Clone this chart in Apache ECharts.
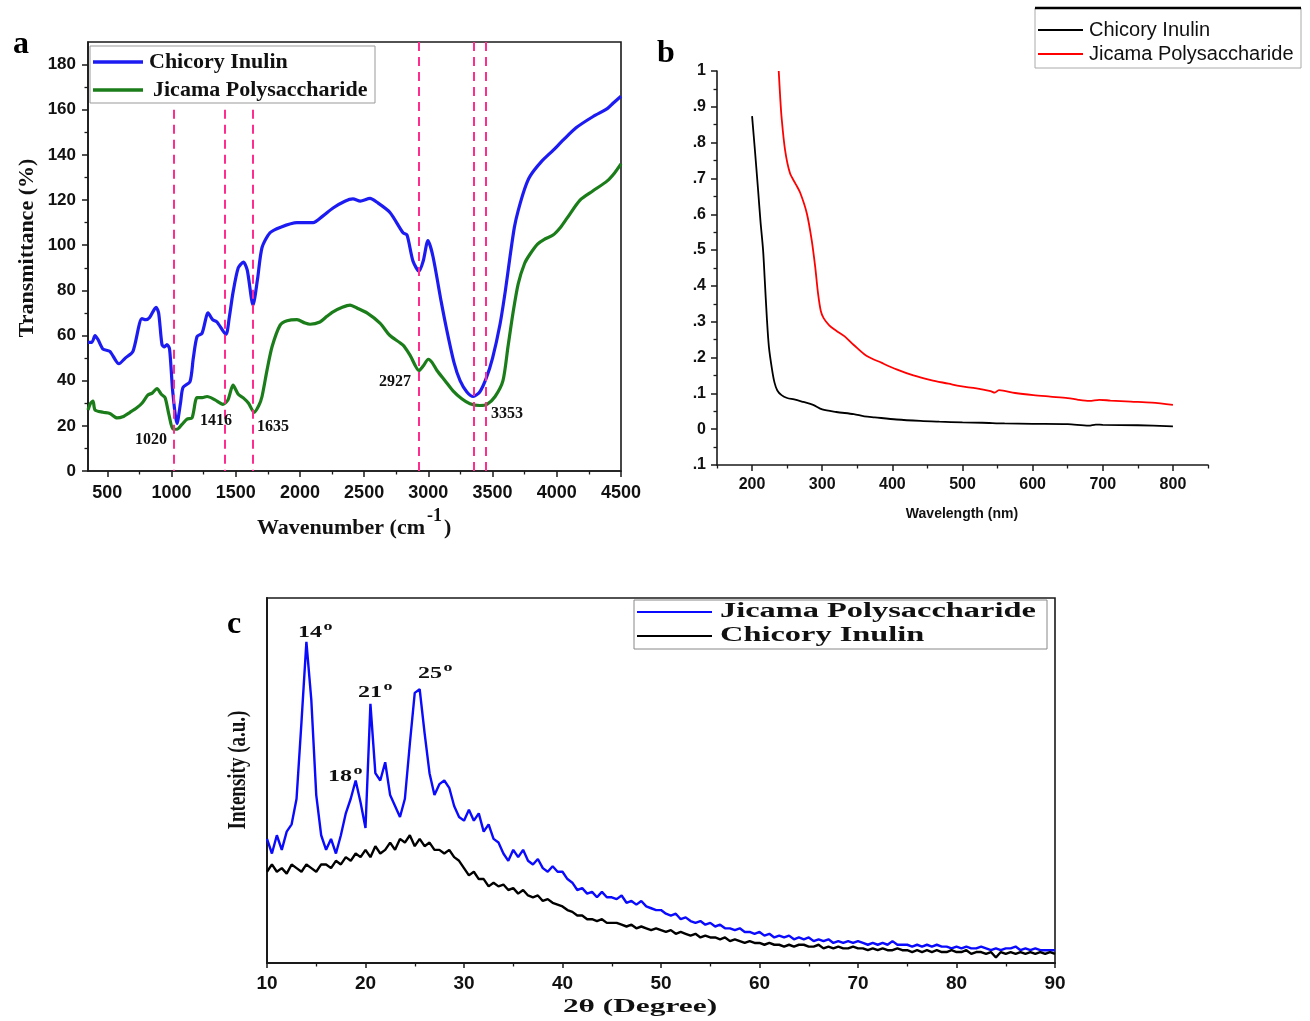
<!DOCTYPE html>
<html><head><meta charset="utf-8">
<script src="https://cdn.jsdelivr.net/npm/echarts@6/dist/echarts.min.js"></script>
<style>html,body{margin:0;padding:0;background:#fff}#c{width:1310px;height:1021px}</style>
</head><body><div id="c"></div>
<script>
// ---------- Panel a : FTIR ----------
const ftirXTicks = [500,1000,1500,2000,2500,3000,3500,4000,4500];
const ftirXMinor = [750,1250,1750,2250,2750,3250,3750,4250];
const ftirYTicks = [0,20,40,60,80,100,120,140,160,180];
const ftirYMinor = [10,30,50,70,90,110,130,150,170];
const ftirChicory = [[350,57],[380,57],[405,60],[430,58],[467,54],[520,53],[591,47.5],[640,50],[700,53],[770,67.5],[800,67],[830,68],[880,72.5],[900,70],[926,56],[945,55],[965,56],[985,54],[1010,35],[1043,21],[1070,30],[1090,37],[1144,39.5],[1170,50],[1199,59.5],[1238,61],[1285,70],[1320,67],[1354,66],[1424,60.5],[1450,68],[1479,79],[1520,90],[1560,92.5],[1590,89],[1635,73.5],[1670,85],[1705,99],[1767,105.5],[1850,108],[1977,110],[2102,110],[2180,113],[2258,116.5],[2350,119.5],[2413,120.5],[2470,119.5],[2546,120.7],[2600,119],[2701,114.5],[2803,105.5],[2834,104.5],[2880,93],[2927,88.5],[2960,93],[2997,102],[3036,95],[3100,75],[3145,62],[3200,48],[3247,40],[3300,35],[3349,33],[3400,35],[3450,41],[3500,50],[3558,65],[3600,80],[3636,95],[3670,108],[3698,115],[3750,125],[3791,130.5],[3880,137],[3971,142],[4049,146.5],[4150,152],[4283,157],[4393,160.5],[4440,163],[4500,166]];
const ftirJicama = [[350,27],[370,30],[389,31],[405,27],[467,26],[520,25.5],[576,23.5],[620,24],[677,26],[730,28],[770,30],[817,33.7],[850,34.5],[887,36.5],[920,34],[950,32.5],[980,25],[1012,18.5],[1043,18.5],[1080,20.5],[1121,23],[1160,23.5],[1199,32.5],[1240,32.5],[1277,33],[1339,31.5],[1401,29.5],[1440,31.5],[1479,38],[1520,34],[1557,32.5],[1600,30],[1643,26],[1680,29],[1705,33],[1745,45],[1783,55],[1845,64.5],[1900,66.5],[1977,67],[2040,65.5],[2079,65],[2156,66],[2210,68.5],[2258,70.5],[2330,72.5],[2390,73.5],[2450,72],[2522,70],[2623,65.5],[2701,60],[2803,55.7],[2860,51],[2927,44.5],[2960,46.5],[3000,49.5],[3030,48],[3067,44.5],[3130,40],[3192,35.5],[3260,32],[3324,29.8],[3400,29],[3456,29.5],[3520,33],[3581,40],[3620,55],[3659,70],[3700,83],[3750,92],[3791,96],[3850,100.5],[3900,102.5],[3971,104.5],[4030,108],[4080,112],[4181,120],[4280,124],[4393,128.5],[4450,132],[4500,136]];
const ftirBandPos = [1020,1416,1635,2927,3353,3450];
const ftirBandTop = [160,160,160,190,190,190];
const ftirLabelText = ['1020','1416','1635','2927','3353'];
const ftirLabelX = [840,1347,1790,2740,3612];
const ftirLabelY = [13.7,22.1,19.5,39.4,25.2];

// ---------- Panel b : UV-Vis ----------
const uvXTicks = [200,300,400,500,600,700,800];
const uvXMinor = [150,250,350,450,550,650,750,850];
const uvYTicks = [-0.1,0,0.1,0.2,0.3,0.4,0.5,0.6,0.7,0.8,0.9,1];
const uvYMinor = [-0.05,0.05,0.15,0.25,0.35,0.45,0.55,0.65,0.75,0.85,0.95];
const uvChicory = [[200,0.874],[204,0.78],[208.6,0.667],[212,0.58],[215.7,0.5],[218,0.42],[221,0.313],[224,0.23],[228.6,0.165],[232,0.13],[236,0.108],[242,0.095],[250,0.087],[260,0.083],[273,0.076],[287,0.068],[300,0.055],[320,0.048],[345,0.042],[360,0.036],[375,0.033],[406,0.027],[440,0.023],[467,0.021],[500,0.019],[528,0.018],[560,0.016],[600,0.015],[650,0.014],[680,0.01],[690,0.013],[700,0.012],[750,0.011],[800,0.008]];
const uvJicama = [[238,1.0],[240,0.93],[242,0.872],[247,0.78],[254,0.715],[262,0.685],[268.6,0.66],[278,0.603],[285,0.528],[290,0.453],[294,0.38],[298,0.33],[302,0.31],[310,0.29],[320,0.275],[332,0.259],[345,0.235],[363,0.205],[385,0.185],[406,0.167],[430,0.15],[455,0.137],[480,0.127],[497,0.12],[520,0.114],[540,0.106],[546,0.102],[552,0.109],[575,0.101],[601,0.095],[625,0.091],[650,0.087],[665,0.082],[681,0.079],[695,0.082],[711,0.08],[740,0.077],[770,0.074],[800,0.068]];

// ---------- Panel c : XRD ----------
const xrdStart = 10, xrdStep = 0.5;
const xrdJicama = [
34,30,35,31,36,38,45,66,88,72,
46,35,31,34,30,35,41,45,50,44,
37,71,52,50,55,46,43,40,45,60,
74,75,63,52,46,49,50,48,43,40,
39,42,39,41,36,38,34,33,30,28,
31,29,31,28,27,28.5,26,25,26.5,25,
25,23,22,20,20.5,19,19.5,18,19.5,18,
18,17.5,18.5,16.5,17,16,17,15.5,15,14.5,
14.5,13.5,13,13.5,12,12.5,11.5,11,11.5,10.5,
11,10,10.5,9.5,9.5,9,9.5,8.5,8.5,8,
8.5,7.5,8,7,7.5,7,7.5,6.5,7,6.5,
7,6,6.5,6,6.5,5.5,6,5.5,6,5.5,
6,5.5,5,5.5,5,5.5,5,6,5,5,
5,4.5,5,4.5,5,4.5,5,4.5,4.5,4,
4.5,4,4.5,4,4,4.5,4,3.5,4,3.5,
4,4,4.5,3.5,4,3.5,4,3.5,3.5,3.5,
3.5];
const xrdChicory = [
25,27,25,26,24.5,27,26,25,27,26,
25,27,27,26,28,27,29,28,30,29,
31,29,32,30,31,33,31,34,33,35,
32,34,32,33,31,31,30,31,29,28,
26,24,25,23,23,21,22,21,21.5,20,
20.5,19,20,18.5,18,18.5,17,17.5,16.5,16,
15.5,14.5,14,13,13,12,12,11.5,12,11,
11,11,10.5,10,10.5,9.5,10,9.5,9,9.5,
9,8.5,9,8,8.5,8,7.5,8,7,7.5,
7,7,6.5,7,6,6.5,6,5.5,6,5.5,
5.5,5,5.5,5,5,4.5,5,4.5,5,5,
4.5,4.5,5,4,4.5,4,4.5,4,4,4.5,
4,4,3.5,4,3.5,4,3.5,3.5,4,3.5,
3.5,3,3.5,3,3.5,3,3.5,3,3,3.5,
3,3,3.5,2.5,3,3,2.5,3,1.5,3,
2.5,3,2.5,3,2.5,3,2.5,3,2.5,3,
2.5];
const xrdPeakText = ['14','21','25','18'];
const xrdPeakX = [14.37,20.46,26.55,17.41];
const xrdPeakY = [90.4,74.0,79.2,51.0];

// ---------- build ----------
const SERIF = '"Liberation Serif","Times New Roman",serif';
const SANS = '"Liberation Sans",Arial,sans-serif';
const AX = '#1a1a1a';
const xrdPairs = arr => arr.map((v,i)=>[xrdStart + i*xrdStep, v]);

function majorAxis(extra){
  return Object.assign({type:'value', splitLine:{show:false},
    axisLine:{show:true,onZero:false,lineStyle:{color:AX,width:1.6}}}, extra);
}
const plain = v => String(v);
const uvFmt = v => v===1?'1':(v===0?'0':'.'+Math.round(Math.abs(v)*10));

const chart = echarts.init(document.getElementById('c'), null, {renderer:'canvas'});
const option = {
  animation:false,
  backgroundColor:'#fff',
  grid:[
    {left:88, top:42, width:533, height:429, show:true, borderColor:AX, borderWidth:1.6, containLabel:false, outerBoundsMode:'none'},
    {left:717, top:71, width:491, height:394, show:false, containLabel:false, outerBoundsMode:'none'},
    {left:267, top:598, width:788, height:365, show:true, borderColor:AX, borderWidth:1.6, containLabel:false, outerBoundsMode:'none'}
  ],
  xAxis:[
    majorAxis({gridIndex:0, position:'bottom', min:350, max:4500,
      axisTick:{customValues:ftirXTicks, length:6, lineStyle:{color:AX,width:1.5}},
      axisLabel:{customValues:ftirXTicks, formatter:plain, margin:13, color:'#111', fontFamily:SANS, fontWeight:'bold', fontSize:18}}),
    majorAxis({gridIndex:0, position:'bottom', min:350, max:4500, axisLine:{show:false,onZero:false},
      axisTick:{customValues:ftirXMinor, length:3.5, lineStyle:{color:AX,width:1.3}}, axisLabel:{show:false}}),
    majorAxis({gridIndex:1, position:'bottom', min:150, max:850,
      axisTick:{customValues:uvXTicks, length:6, lineStyle:{color:AX,width:1.5}},
      axisLabel:{customValues:uvXTicks, formatter:plain, margin:12, color:'#111', fontFamily:SANS, fontWeight:'bold', fontSize:16}}),
    majorAxis({gridIndex:1, position:'bottom', min:150, max:850, axisLine:{show:false,onZero:false},
      axisTick:{customValues:uvXMinor, length:3.5, lineStyle:{color:AX,width:1.3}}, axisLabel:{show:false}}),
    majorAxis({gridIndex:2, position:'bottom', min:10, max:90, interval:10,
      axisLine:{show:true,onZero:false,lineStyle:{color:AX,width:2}},
      axisTick:{length:5, lineStyle:{color:AX,width:1.5}},
      minorTick:{show:true, splitNumber:2, length:3.5, lineStyle:{color:AX,width:1.3}},
      axisLabel:{formatter:plain, margin:11, color:'#111', fontFamily:SANS, fontWeight:'bold', fontSize:19}})
  ],
  yAxis:[
    majorAxis({gridIndex:0, position:'left', min:0, max:190,
      axisTick:{customValues:ftirYTicks, length:6, lineStyle:{color:AX,width:1.5}},
      axisLabel:{customValues:ftirYTicks, formatter:plain, margin:12, color:'#111', fontFamily:SANS, fontWeight:'bold', fontSize:17}}),
    majorAxis({gridIndex:0, position:'left', min:0, max:190, axisLine:{show:false,onZero:false},
      axisTick:{customValues:ftirYMinor, length:3.5, lineStyle:{color:AX,width:1.3}}, axisLabel:{show:false}}),
    majorAxis({gridIndex:1, position:'left', min:-0.1, max:1,
      axisTick:{customValues:uvYTicks, length:6, lineStyle:{color:AX,width:1.5}},
      axisLabel:{customValues:uvYTicks, formatter:uvFmt, margin:11, color:'#111', fontFamily:SANS, fontWeight:'bold', fontSize:16}}),
    majorAxis({gridIndex:1, position:'left', min:-0.1, max:1, axisLine:{show:false,onZero:false},
      axisTick:{customValues:uvYMinor, length:3.5, lineStyle:{color:AX,width:1.3}}, axisLabel:{show:false}}),
    majorAxis({gridIndex:2, position:'left', min:0, max:100,
      axisLine:{show:true,onZero:false,lineStyle:{color:AX,width:2}},
      axisTick:{show:false}, axisLabel:{show:false}})
  ],
  series:[
    {type:'line', name:'Chicory Inulin (FTIR)', xAxisIndex:0, yAxisIndex:0, data:ftirChicory, smooth:0.25, symbol:'none',
      lineStyle:{color:'#1c1cf2', width:3.2}, itemStyle:{color:'#1c1cf2'},
      markLine:{silent:true, symbol:'none', label:{show:false}, animation:false,
        lineStyle:{color:'#ff2d8f', type:[9,6], width:2},
        data: ftirBandPos.map((v,i)=>[{coord:[v,ftirBandTop[i]]},{coord:[v,0]}])}},
    {type:'line', name:'Jicama Polysaccharide (FTIR)', xAxisIndex:0, yAxisIndex:0, data:ftirJicama, smooth:0.25, symbol:'none',
      lineStyle:{color:'#1a7d1a', width:3.2}, itemStyle:{color:'#1a7d1a'}},
    {type:'line', name:'Chicory Inulin (UV)', xAxisIndex:2, yAxisIndex:2, data:uvChicory, smooth:0.3, symbol:'none',
      lineStyle:{color:'#000', width:1.8}, itemStyle:{color:'#000'}},
    {type:'line', name:'Jicama Polysaccharide (UV)', xAxisIndex:2, yAxisIndex:2, data:uvJicama, smooth:0.3, symbol:'none',
      lineStyle:{color:'#ff0000', width:1.8}, itemStyle:{color:'#ff0000'}},
    {type:'line', name:'Jicama Polysaccharide (XRD)', xAxisIndex:4, yAxisIndex:4, data:xrdPairs(xrdJicama), symbol:'none',
      lineStyle:{color:'#0a0aff', width:2.4}, itemStyle:{color:'#0a0aff'}},
    {type:'line', name:'Chicory Inulin (XRD)', xAxisIndex:4, yAxisIndex:4, data:xrdPairs(xrdChicory), symbol:'none',
      lineStyle:{color:'#000', width:2.4}, itemStyle:{color:'#000'}}
  ],
  graphic:[
    {id:'la', type:'text', x:21, y:45, style:{text:'a', font:'bold 32px '+SERIF, fill:'#000', align:'center', verticalAlign:'middle'}},
    {id:'lb', type:'text', x:666, y:54, style:{text:'b', font:'bold 32px '+SERIF, fill:'#000', align:'center', verticalAlign:'middle'}},
    {id:'lc', type:'text', x:234, y:625, style:{text:'c', font:'bold 32px '+SERIF, fill:'#000', align:'center', verticalAlign:'middle'}},
    {id:'aty', type:'text', x:27, y:248, rotation:Math.PI/2, style:{text:'Transmittance (%)', font:'bold 22px '+SERIF, fill:'#111', align:'center', verticalAlign:'middle'}},
    {id:'atx1', type:'text', x:425, y:528, style:{text:'Wavenumber (cm', font:'bold 22px '+SERIF, fill:'#111', align:'right', verticalAlign:'middle'}},
    {id:'atx2', type:'text', x:427, y:516, style:{text:'-1', font:'bold 18px '+SERIF, fill:'#111', align:'left', verticalAlign:'middle'}},
    {id:'atx3', type:'text', x:444, y:528, style:{text:')', font:'bold 22px '+SERIF, fill:'#111', align:'left', verticalAlign:'middle'}},
    {id:'btx', type:'text', x:962, y:514, style:{text:'Wavelength (nm)', font:'bold 14px '+SANS, fill:'#111', align:'center', verticalAlign:'middle'}},
    {id:'cty', type:'text', x:239, y:770, rotation:Math.PI/2, scaleY:1.3, style:{text:'Intensity (a.u.)', font:'bold 19px '+SERIF, fill:'#111', align:'center', verticalAlign:'middle'}},
    {id:'ctx', type:'text', x:640, y:1007, scaleX:1.65, style:{text:'2θ (Degree)', font:'bold 19px '+SERIF, fill:'#111', align:'center', verticalAlign:'middle'}},
    // legend a
    {id:'lga0', type:'rect', z:50, shape:{x:90,y:46,width:285,height:57}, style:{fill:'#fff', stroke:'#999', lineWidth:1}},
    {id:'lga1', type:'line', z:51, shape:{x1:93,y1:62,x2:143,y2:62}, style:{stroke:'#1c1cf2', lineWidth:3.5}},
    {id:'lga2', type:'text', z:51, x:149, y:62, style:{text:'Chicory Inulin', font:'bold 22px '+SERIF, fill:'#111', align:'left', verticalAlign:'middle'}},
    {id:'lga3', type:'line', z:51, shape:{x1:93,y1:90,x2:143,y2:90}, style:{stroke:'#1a7d1a', lineWidth:3.5}},
    {id:'lga4', type:'text', z:51, x:153, y:90, style:{text:'Jicama Polysaccharide', font:'bold 22px '+SERIF, fill:'#111', align:'left', verticalAlign:'middle'}},
    // legend b
    {id:'lgb0', type:'rect', z:50, shape:{x:1035,y:8,width:266,height:60}, style:{fill:'#fff', stroke:'#aaa', lineWidth:1}},
    {id:'lgb5', type:'line', z:51, shape:{x1:1035,y1:8,x2:1301,y2:8}, style:{stroke:'#000', lineWidth:2.5}},
    {id:'lgb1', type:'line', z:51, shape:{x1:1038,y1:30,x2:1083,y2:30}, style:{stroke:'#000', lineWidth:2}},
    {id:'lgb2', type:'text', z:51, x:1089, y:30, style:{text:'Chicory Inulin', font:'20px '+SANS, fill:'#111', align:'left', verticalAlign:'middle'}},
    {id:'lgb3', type:'line', z:51, shape:{x1:1038,y1:54,x2:1083,y2:54}, style:{stroke:'#ff0000', lineWidth:2}},
    {id:'lgb4', type:'text', z:51, x:1089, y:54, style:{text:'Jicama Polysaccharide', font:'20px '+SANS, fill:'#111', align:'left', verticalAlign:'middle'}},
    // legend c
    {id:'lgc0', type:'rect', z:50, shape:{x:634,y:600,width:413,height:49}, style:{fill:'#fff', stroke:'#888', lineWidth:1}},
    {id:'lgc1', type:'line', z:51, shape:{x1:637,y1:612,x2:712,y2:612}, style:{stroke:'#0a0aff', lineWidth:2}},
    {id:'lgc2', type:'text', z:51, x:720, y:612, scaleX:1.62, style:{text:'Jicama Polysaccharide', font:'bold 20px '+SERIF, fill:'#111', align:'left', verticalAlign:'middle'}},
    {id:'lgc3', type:'line', z:51, shape:{x1:637,y1:636,x2:712,y2:636}, style:{stroke:'#000', lineWidth:2}},
    {id:'lgc4', type:'text', z:51, x:720, y:636, scaleX:1.62, style:{text:'Chicory Inulin', font:'bold 20px '+SERIF, fill:'#111', align:'left', verticalAlign:'middle'}}
  ]
};
chart.setOption(option);

// Annotations placed through the chart's own scales
const annEls = [];
ftirLabelText.forEach((t,i)=>{
  const p = chart.convertToPixel({xAxisIndex:0, yAxisIndex:0}, [ftirLabelX[i], ftirLabelY[i]]);
  annEls.push({id:'fl'+i, type:'text', z:60, x:p[0], y:p[1],
    style:{text:t, font:'bold 16px '+SERIF, fill:'#111', align:'center', verticalAlign:'middle'}});
});
xrdPeakText.forEach((t,i)=>{
  const p = chart.convertToPixel({xAxisIndex:4, yAxisIndex:4}, [xrdPeakX[i], xrdPeakY[i]]);
  annEls.push({id:'pk'+i, type:'text', z:60, x:p[0], y:p[1], scaleX:1.5,
    style:{text:t, font:'bold 16px '+SERIF, fill:'#111', align:'center', verticalAlign:'middle'}});
  annEls.push({id:'pks'+i, type:'text', z:60, x:p[0]+18, y:p[1]-6, scaleX:1.5,
    style:{text:'o', font:'bold 12px '+SERIF, fill:'#111', align:'center', verticalAlign:'middle'}});
});
chart.setOption({graphic:{elements:annEls}});
</script></body></html>
